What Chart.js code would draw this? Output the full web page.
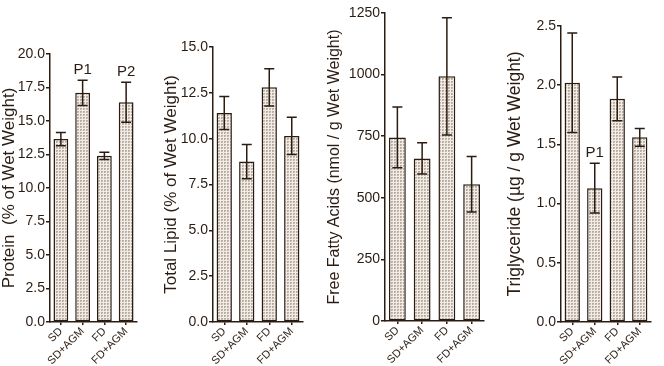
<!DOCTYPE html>
<html>
<head>
<meta charset="utf-8">
<script src="https://cdn.jsdelivr.net/npm/chart.js@4.4.1/dist/chart.umd.min.js"></script>
<style>
  html, body { margin: 0; padding: 0; background: #fff; }
  #wrap { position: relative; width: 664px; height: 366px; overflow: hidden; }
  .panel { position: absolute; top: 0; height: 366px; }
</style>
</head>
<body>
<div id="wrap">
  <div class="panel" id="p1"><canvas id="c1"></canvas></div>
  <div class="panel" id="p2"><canvas id="c2"></canvas></div>
  <div class="panel" id="p3"><canvas id="c3"></canvas></div>
  <div class="panel" id="p4"><canvas id="c4"></canvas></div>
</div>
<script>
const groups = ['SD', 'SD+AGM', 'FD', 'FD+AGM'];

const proteinMean = [13.65, 17.1, 12.4, 16.4];
const proteinErr = [0.5, 0.95, 0.27, 1.5];
const proteinMarks = ['', 'P1', '', 'P2'];
const proteinTicks = [0, 2.5, 5, 7.5, 10, 12.5, 15, 17.5, 20];

const lipidMean = [11.4, 8.75, 12.8, 10.15];
const lipidErr = [0.9, 0.93, 1.02, 1.02];
const lipidMarks = ['', '', '', ''];
const lipidTicks = [0, 2.5, 5, 7.5, 10, 12.5, 15];

const ffaMean = [745, 660, 993, 555];
const ffaErr = [123, 63, 238, 113];
const ffaMarks = ['', '', '', ''];
const ffaTicks = [0, 250, 500, 750, 1000, 1250];

const tgMean = [2.02, 1.13, 1.885, 1.56];
const tgErr = [0.42, 0.21, 0.185, 0.075];
const tgMarks = ['', 'P1', '', ''];
const tgTicks = [0, 0.5, 1, 1.5, 2, 2.5];

const ink = '#2a1c12';
const font = '"Liberation Sans", Arial, sans-serif';

// stippled fill like the original print
function stipple() {
  const c = document.createElement('canvas');
  c.width = 3; c.height = 3;
  const g = c.getContext('2d');
  g.fillStyle = '#b9ada0';
  g.fillRect(0, 0, 3, 3);
  g.fillStyle = '#f1ece7';
  g.fillRect(0, 2, 3, 1);
  g.fillRect(2, 0, 1, 3);
  g.fillStyle = '#d2c8be';
  g.fillRect(1, 1, 1, 1);
  return g.createPattern(c, 'repeat');
}

const errorBars = {
  id: 'errorBars',
  afterDatasetsDraw(chart, args, opts) {
    const { ctx } = chart;
    const y = chart.scales.y;
    const meta = chart.getDatasetMeta(0);
    ctx.save();
    ctx.strokeStyle = ink;
    ctx.lineWidth = 1.5;
    ctx.fillStyle = ink;
    ctx.font = '15px ' + font;
    ctx.textAlign = 'center';
    ctx.textBaseline = 'bottom';
    meta.data.forEach((bar, i) => {
      const m = opts.mean[i], e = opts.err[i];
      const top = y.getPixelForValue(m + e);
      const bot = y.getPixelForValue(m - e);
      ctx.beginPath();
      ctx.moveTo(bar.x, top); ctx.lineTo(bar.x, bot);
      ctx.moveTo(bar.x - 5, top); ctx.lineTo(bar.x + 5, top);
      ctx.moveTo(bar.x - 5, bot); ctx.lineTo(bar.x + 5, bot);
      ctx.stroke();
      if (opts.marks[i]) ctx.fillText(opts.marks[i], bar.x, top - 3);
    });
    ctx.restore();
  }
};

function makePanel(id, box, mean, err, marks, ticks, decimals, title, titleSize) {
  const holder = document.getElementById('p' + id);
  holder.style.left = box.left + 'px';
  holder.style.width = box.width + 'px';
  const rightPad = box.width - (box.right - box.left);
  new Chart(document.getElementById('c' + id), {
    type: 'bar',
    data: {
      labels: groups,
      datasets: [{
        data: mean,
        backgroundColor: stipple(),
        borderColor: ink,
        borderWidth: 1.5,
        borderSkipped: false,
        barPercentage: 0.68,
        categoryPercentage: 1
      }]
    },
    options: {
      responsive: true,
      maintainAspectRatio: false,
      animation: false,
      layout: { padding: { top: box.top, right: rightPad, left: 0, bottom: 0 } },
      plugins: {
        legend: { display: false },
        tooltip: { enabled: false },
        errorBars: { mean: mean, err: err, marks: marks }
      },
      scales: {
        x: {
          grid: { display: true, drawOnChartArea: false, offset: false, color: ink, lineWidth: 1.5, tickLength: 3 },
          border: { display: true, color: ink, width: 1.5 },
          ticks: { color: ink, font: { family: font, size: 11 }, minRotation: 45, maxRotation: 45,
                   autoSkip: false, padding: 0 },
          afterFit: s => { s.height = 366 - box.bottom; }
        },
        y: {
          min: ticks[0],
          max: ticks[ticks.length - 1],
          afterBuildTicks: s => { s.ticks = ticks.map(v => ({ value: v })); },
          grid: { display: true, drawOnChartArea: false, color: ink, lineWidth: 1.5, tickLength: 4 },
          border: { display: true, color: ink, width: 1.5 },
          ticks: { color: ink, font: { family: font, size: 14 }, padding: 1,
                   callback: v => Number(v).toFixed(decimals) },
          title: { display: true, text: title, color: ink, font: { family: font, size: titleSize },
                   padding: { top: 0, bottom: 2 } },
          afterFit: s => { s.width = box.axis - box.left; }
        }
      }
    },
    plugins: [errorBars]
  });
}

makePanel(1, { left: -1, width: 146, axis: 50, right: 137, top: 54, bottom: 322 },
  proteinMean, proteinErr, proteinMarks, proteinTicks, 1, 'Protein  (% of Wet Weight)', 17);
makePanel(2, { left: 161, width: 147, axis: 213, right: 303, top: 47, bottom: 322 },
  lipidMean, lipidErr, lipidMarks, lipidTicks, 1, 'Total Lipid (% of Wet Weight)', 17);
makePanel(3, { left: 325, width: 165, axis: 385, right: 484, top: 13, bottom: 321 },
  ffaMean, ffaErr, ffaMarks, ffaTicks, 0, 'Free Fatty Acids (nmol / g Wet Weight)', 16);
makePanel(4, { left: 505, width: 159, axis: 561, right: 651, top: 26, bottom: 322 },
  tgMean, tgErr, tgMarks, tgTicks, 1, 'Triglyceride (\u00b5g / g Wet Weight)', 17.5);
</script>
</body>
</html>
